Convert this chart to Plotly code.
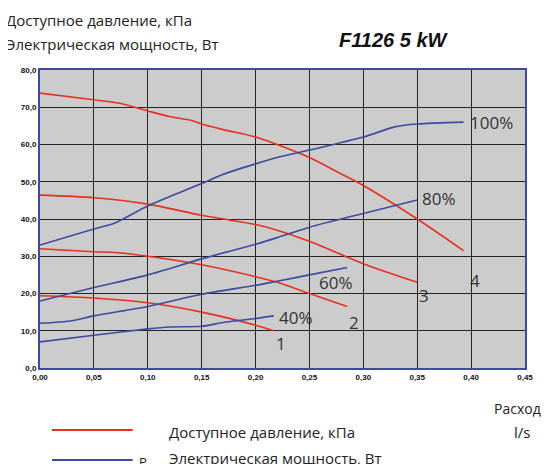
import plotly.graph_objects as go

RED = "#e8301c"
BLUE = "#3c4b9e"

# pressure curves (kPa), labels 1..4
p4_x = [0, 0.05, 0.075, 0.10, 0.12, 0.14, 0.15, 0.17, 0.20, 0.22, 0.25, 0.28, 0.30, 0.35, 0.393]
p4_y = [73.8, 72, 71, 69, 67.5, 66.5, 65.5, 64, 62, 60, 56.5, 52, 49, 40, 31.5]
p3_x = [0, 0.05, 0.10, 0.15, 0.20, 0.22, 0.25, 0.30, 0.35]
p3_y = [46.4, 45.7, 44, 41, 38.5, 37, 34, 28, 23]
p2_x = [0, 0.05, 0.07, 0.10, 0.15, 0.20, 0.22, 0.25, 0.285]
p2_y = [32, 31.2, 31, 30, 27.7, 24.5, 23, 20, 16.5]
p1_x = [0, 0.05, 0.10, 0.15, 0.20, 0.217]
p1_y = [19.4, 18.8, 17.5, 15, 11.5, 10]

# power curves (W), labels 40..100%
w100_x = [0, 0.05, 0.07, 0.10, 0.15, 0.17, 0.20, 0.22, 0.25, 0.30, 0.33, 0.35, 0.393]
w100_y = [33, 37.3, 39, 43.5, 49.5, 52, 54.8, 56.5, 58.5, 62, 64.8, 65.5, 66]
w80_x = [0, 0.05, 0.10, 0.15, 0.20, 0.22, 0.25, 0.30, 0.35]
w80_y = [18, 21.6, 25, 29.3, 33.2, 35, 37.8, 41.5, 45.1]
w60_x = [0, 0.03, 0.05, 0.10, 0.15, 0.20, 0.22, 0.25, 0.285]
w60_y = [12, 12.7, 14, 16.5, 19.8, 22.2, 23.3, 25, 27]
w40_x = [0, 0.05, 0.10, 0.12, 0.15, 0.17, 0.20, 0.217]
w40_y = [7, 8.8, 10.5, 11, 11.2, 12.2, 13.3, 14]

fig = go.Figure()
for xs, ys in [(p4_x, p4_y), (p3_x, p3_y), (p2_x, p2_y), (p1_x, p1_y)]:
    fig.add_trace(go.Scatter(x=xs, y=ys, mode="lines", line=dict(color=RED, width=1.6, shape="spline", smoothing=0.8)))
for xs, ys in [(w100_x, w100_y), (w80_x, w80_y), (w60_x, w60_y), (w40_x, w40_y)]:
    fig.add_trace(go.Scatter(x=xs, y=ys, mode="lines", line=dict(color=BLUE, width=1.6, shape="spline", smoothing=0.8)))

lab = dict(font=dict(family="Open Sans", size=17, color="#333"), showarrow=False, xanchor="left")
curve_labels = [(0.397, 66, "100%"), (0.353, 45.5, "80%"), (0.257, 23, "60%"), (0.22, 13.5, "40%"),
                (0.397, 23.5, "4"), (0.35, 19.5, "3"), (0.285, 12.3, "2"), (0.217, 6.5, "1")]
for x, y, t in curve_labels:
    fig.add_annotation(x=x, y=y, text=t, **lab)

# page has an 8px body margin: reference pixel coords are shifted by OFF
OFF = 8
W, H = 553 - 2 * OFF, 472 - 2 * OFF
L, R, T, B = 40, 527, 70, 368
def px(x): return (x - L) / (R - L)
def py(y): return (B - y) / (B - T)

txt = dict(xref="paper", yref="paper", showarrow=False, xanchor="left", yanchor="middle",
           font=dict(family="Open Sans", size=15, color="#222"))
fig.add_annotation(x=px(4), y=py(20), text="Доступное давление, кПа", **txt)
fig.add_annotation(x=px(4), y=py(44), text="Электрическая мощность, Вт", **txt)
fig.add_annotation(x=px(338), y=py(40), text="<b><i>F1126 5 kW</i></b>",
                   **{**txt, "font": dict(family="Arial", size=20, color="#111")})
fig.add_annotation(x=px(494), y=py(408), text="Расход",
                   **{**txt, "font": dict(family="Open Sans", size=14, color="#222")})
fig.add_annotation(x=px(514), y=py(432), text="l/s", **txt)
fig.add_annotation(x=px(168), y=py(432), text="Доступное давление, кПа", **txt)
fig.add_annotation(x=px(168), y=py(458), text="Электрическая мощность, Вт", **txt)
fig.add_annotation(x=px(137), y=py(462), text="P", **{**txt, "font": dict(family="Open Sans", size=13, color="#222")})

fig.add_shape(type="line", xref="paper", yref="paper", x0=px(52), x1=px(133), y0=py(430), y1=py(430),
              line=dict(color=RED, width=2))
fig.add_shape(type="line", xref="paper", yref="paper", x0=px(52), x1=px(133), y0=py(460), y1=py(460),
              line=dict(color=BLUE, width=2))

axis = dict(showline=True, linecolor="#3c4b9e", linewidth=2, mirror=True, showgrid=True,
            gridcolor="#222", gridwidth=1, zeroline=False, ticks="",
            tickfont=dict(family="Arial", size=8, color="#111", weight="bold"))
fig.update_xaxes(range=[0, 0.45], dtick=0.05, tickformat=".2f", **axis)
fig.update_yaxes(range=[0, 80], dtick=10, tickformat=".1f", **axis)
fig.update_layout(width=W, height=H,
                  margin=dict(l=L - OFF, r=W - (R - OFF), t=T - OFF, b=H - (B - OFF)),
                  plot_bgcolor="#cccccc", paper_bgcolor="white", showlegend=False,
                  separators=",.")
fig.write_html("out.html")
